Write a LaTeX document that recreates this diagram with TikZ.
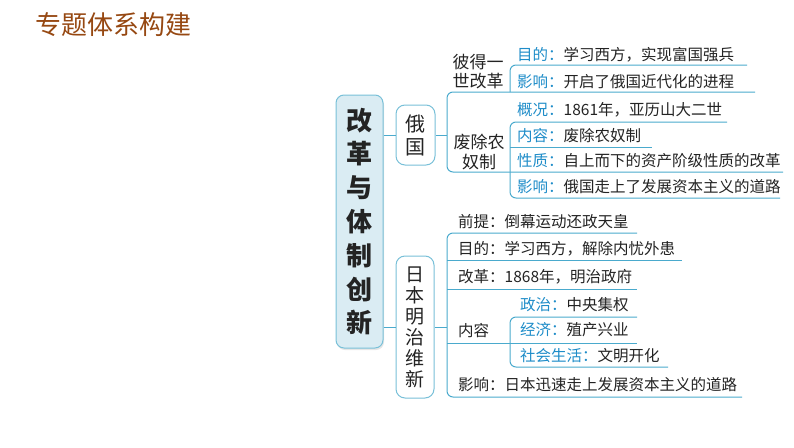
\documentclass[tikz,border=0pt]{standalone}
\usepackage{fontspec}
\setmainfont{Noto Sans CJK SC}
\usetikzlibrary{shadows}
\definecolor{linec}{RGB}{74,170,205}
\definecolor{boxc}{RGB}{120,192,216}
\definecolor{fillc}{RGB}{218,236,243}
\definecolor{labc}{RGB}{30,140,200}
\definecolor{titc}{RGB}{150,72,18}
\definecolor{txtc}{RGB}{35,35,35}
\begin{document}
\begin{tikzpicture}[x=1pt,y=-1pt,
  conn/.style={draw=linec, line width=1pt},
  brk/.style={conn, rounded corners=6pt},
  item/.style={anchor=west, inner sep=0pt, font=\fontsize{15.5}{15.5}\selectfont, text=txtc},
  lab/.style={text=labc},
  vbox/.style={draw=boxc, line width=1pt, rounded corners=9pt, fill=white, inner sep=0pt, align=center, text=txtc}]
\useasboundingbox (0,0) rectangle (794,447);

% title
\node[anchor=west, inner sep=0pt, text=titc, font=\fontsize{26}{26}\selectfont] (title) at (35,25) {专题体系构建};

% main boxes
\node[vbox, fill=fillc, rounded corners=8pt, minimum width=47pt, minimum height=253pt,
  font=\fontsize{26}{33.8}\selectfont\bfseries,
  drop shadow={opacity=0.2, shadow xshift=1pt, shadow yshift=-2pt}] (main) at (359.5,221.5) {改\\革\\与\\体\\制\\创\\新};
\node[vbox, minimum width=39pt, minimum height=60pt, font=\fontsize{20}{23}\selectfont] (eguo) at (415.5,135) {俄\\国};
\node[vbox, minimum width=38pt, minimum height=142pt, font=\fontsize{19}{21}\selectfont] (riben) at (415,327) {日\\本\\明\\治\\维\\新};

\draw[conn] (main.east |- eguo.west) -- (eguo.west);
\draw[conn] (main.east |- riben.west) -- (riben.west);

% ---------- Russia ----------
\coordinate (ruT) at (447,92);
\coordinate (ruB) at (447,172);
\draw[conn] (eguo.east) -- (eguo.east -| ruT);
\draw[brk] (755,92) -- (ruT) -- (ruB) -- (783,172);

\node[align=center, inner sep=0pt, text=txtc, font=\fontsize{17}{19}\selectfont] (peter) at (478,72) {彼得一\\世改革};
\node[align=center, inner sep=0pt, text=txtc, font=\fontsize{17}{20}\selectfont] (nong) at (479,152) {废除农\\奴制};

\coordinate (sa) at (510,65);
\draw[brk] (747,65) -- (sa) -- (510,92);
\coordinate (sb) at (510,122);
\draw[brk] (727,122) -- (sb) -- (510,198) -- (780,198);
\draw[conn] (510,147) -- (652,147);

\node[item] (r1) at (517,55) {\textcolor{labc}{目的：}学习西方，实现富国强兵};
\node[item] (r2) at (517,82) {\textcolor{labc}{影响：}开启了俄国近代化的进程};
\node[item] (r3) at (517,110) {\textcolor{labc}{概况：}1861年，亚历山大二世};
\node[item] (r4) at (517,136) {\textcolor{labc}{内容：}废除农奴制};
\node[item] (r5) at (517,161) {\textcolor{labc}{性质：}自上而下的资产阶级性质的改革};
\node[item] (r6) at (517,187) {\textcolor{labc}{影响：}俄国走上了发展资本主义的道路};

% ---------- Japan ----------
\coordinate (jpT) at (447,233);
\coordinate (jpB) at (447,397);
\draw[conn] (riben.east) -- (riben.east -| jpT);
\draw[brk] (637,233) -- (jpT) -- (jpB) -- (742,397);
\draw[conn] (447,260) -- (682,260);
\draw[conn] (447,289) -- (637,289);
\draw[conn] (447,343) -- (637,343);
\coordinate (sc) at (510,317);
\draw[brk] (637,317) -- (sc) -- (510,367) -- (668,367);

\node[item] (j1) at (458,222) {前提：倒幕运动还政天皇};
\node[item] (j2) at (458,249) {目的：学习西方，解除内忧外患};
\node[item] (j3) at (458,277) {改革：1868年，明治政府};
\node[item] (j4) at (458,331) {内容};
\node[item] (j5) at (520,305) {\textcolor{labc}{政治：}中央集权};
\node[item] (j6) at (520,330) {\textcolor{labc}{经济：}殖产兴业};
\node[item] (j7) at (520,356) {\textcolor{labc}{社会生活：}文明开化};
\node[item] (j8) at (458,385) {影响：日本迅速走上发展资本主义的道路};
\end{tikzpicture}
\end{document}
